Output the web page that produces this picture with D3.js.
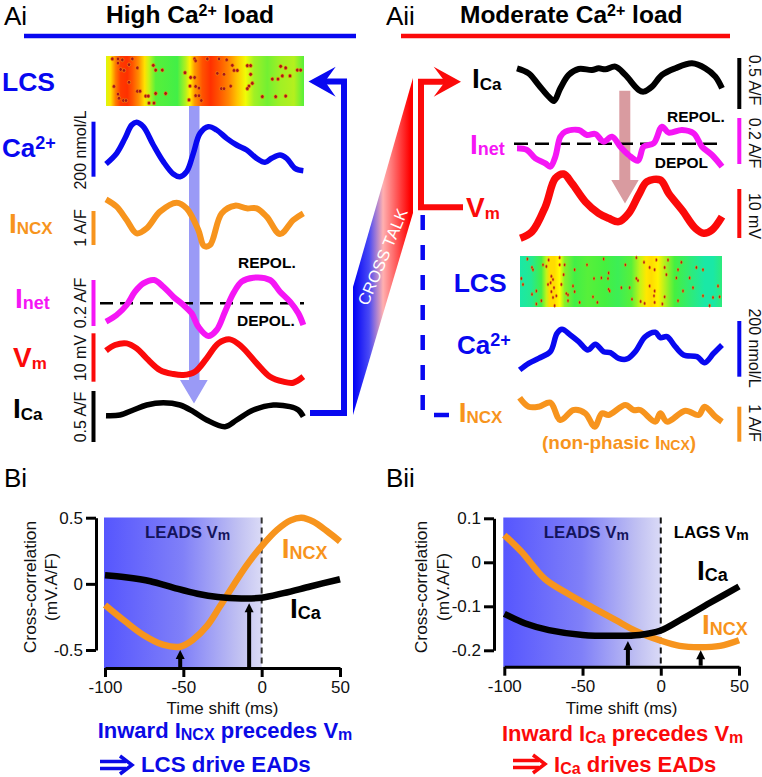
<!DOCTYPE html>
<html><head><meta charset="utf-8">
<script src="https://cdn.jsdelivr.net/npm/d3@7/dist/d3.min.js"></script>
<style>html,body{margin:0;padding:0;background:#fff}svg{display:block;font-family:"Liberation Sans",Arial,sans-serif}</style>
</head><body><div id="c"></div>
<script>
// ---------- colours
const BLUE="#0808f0",RED="#fb0a0a",ORANGE="#f7941d",MAGENTA="#f516f5",BLACK="#000";

// ---------- panel Ai traces: [time, amplitude]
const aiCa=[[0,48],[32,80],[57,125],[77,165],[92,173],[112,160],[142,105],[172,55],[202,18],[222,10],[242,25],[262,80],[282,140],[307,160],[332,150],[362,125],[392,105],[422,90],[452,65],[477,53],[497,65],[522,75],[542,65],[567,35],[592,28]];
const aiNcx=[[0,152],[32,130],[62,90],[92,50],[122,65],[162,115],[212,142],[242,125],[277,60],[294,12],[312,15],[347,110],[387,133],[422,125],[452,125],[482,100],[522,48],[562,90],[592,110]];
const aiNet=[[0,55],[32,75],[62,105],[87,145],[112,170],[144,180],[172,160],[202,130],[232,105],[257,80],[277,40],[307,12],[332,30],[357,85],[382,140],[407,175],[442,187],[492,180],[522,145],[552,115],[577,80],[592,45]];
const aiVm=[[0,108],[27,125],[62,130],[92,115],[122,85],[162,50],[202,38],[232,35],[267,45],[302,85],[337,130],[372,142],[407,120],[452,70],[492,30],[532,15],[562,12],[592,30]];
const aiICa=[[0,43],[42,45],[82,60],[122,75],[172,82],[222,75],[262,55],[302,30],[357,10],[392,30],[442,60],[502,75],[552,70],[577,60],[592,40]];

// ---------- panel Aii traces
const aiiICa=[[0,105],[35,90],[65,55],[95,20],[111,7],[130,45],[155,85],[185,103],[225,100],[245,105],[265,102],[295,110],[325,85],[365,40],[380,35],[405,50],[435,85],[475,105],[525,120],[565,105],[595,80],[615,45]];
const aiiNet=[[0,65],[30,60],[55,35],[85,20],[100,10],[115,40],[130,100],[145,115],[185,120],[210,105],[235,108],[260,85],[285,100],[310,70],[335,45],[363,28],[380,70],[410,80],[435,130],[455,112],[495,120],[530,110],[555,70],[585,45],[615,10]];
const aiiVm=[[10,5],[45,25],[85,100],[115,185],[140,198],[165,170],[205,115],[245,80],[275,65],[305,55],[335,80],[365,135],[390,175],[430,180],[455,140],[495,90],[535,35],[560,20],[585,30],[615,70]];
const aiiCa=[[8,10],[35,30],[65,45],[100,65],[120,120],[135,132],[160,115],[185,95],[213,70],[235,87],[260,65],[280,62],[305,45],[330,43],[355,65],[385,110],[415,123],[430,107],[450,110],[475,80],[500,55],[540,50],[563,32],[590,60],[615,85]];
const aiiNcx=[[8,97],[35,70],[65,70],[100,82],[130,30],[170,60],[205,50],[233,10],[255,50],[275,45],[325,75],[350,60],[370,60],[415,25],[430,50],[450,25],[505,58],[545,45],[563,70],[595,40],[615,25]];

// ---------- line-scan (LCS) images
const lcsAiPos=[6,20,35,50,70,85,105,122,135,155,220,245,258,272,295,320,345,375,400,425,450,490,530,570,600];
const lcsAiVal=[.45,.55,.75,.92,.95,.85,.7,.55,.42,.3,.27,.4,.52,.68,.85,.95,.85,.72,.6,.48,.38,.33,.38,.4,.3];
const lcsAiiPos=[6,40,70,85,95,110,125,140,170,210,260,300,340,365,385,400,420,440,470,520,560,585,612];
const lcsAiiVal=[.13,.17,.27,.42,.56,.56,.5,.35,.27,.3,.28,.25,.3,.42,.54,.56,.52,.4,.28,.2,.13,.13,.2];
const sparksAi=[[25,12],[42,12],[55,15],[42,25],[50,45],[60,48],[30,98],[75,85],[100,113],[108,113],[42,122],[125,128],[133,128],[58,142],[66,142],[45,135],[100,40],[85,12],[148,32],[155,47],[175,47],[243,55],[185,120],[135,150],[150,150],[272,12],[275,18],[260,70],[272,70],[258,97],[275,98],[285,103],[255,140],[275,127],[285,127],[292,142],[340,57],[345,12],[368,15],[352,105],[360,105],[385,32],[390,48],[400,48],[380,97],[430,33],[440,33],[440,60],[445,88],[435,97],[430,105],[475,130],[515,130],[545,40],[530,35],[535,65],[558,65],[580,47],[590,47],[505,75],[522,75],[545,128],[360,60],[310,12],[155,120],[75,30]];
const sparksAii=[[92,15],[125,8],[28,12],[42,38],[45,45],[75,30],[85,35],[125,30],[140,30],[207,30],[257,12],[322,30],[355,8],[415,15],[450,15],[490,22],[378,22],[395,38],[410,45],[440,38],[480,45],[555,45],[535,38],[170,45],[272,55],[137,60],[100,65],[105,75],[98,85],[90,90],[108,100],[100,112],[10,72],[228,72],[250,70],[270,72],[355,72],[360,78],[445,60],[475,70],[15,90],[55,110],[130,90],[165,95],[170,112],[145,118],[150,122],[272,105],[275,110],[310,100],[335,100],[395,95],[410,110],[408,125],[525,100],[600,95],[515,70],[42,120],[115,125],[105,130],[110,155],[225,128],[238,145],[342,135],[368,142],[380,148],[410,145],[440,128],[433,150],[480,140],[555,125],[585,130],[605,128],[575,155],[70,140],[55,150],[185,145],[150,140],[495,110]];

// ---------- panel B data
const lagTicks=[-100,-50,0,50];
const biTicks=[-0.5,0,0.5], biiTicks=[-0.2,-0.1,0,0.1];
const biNcx=[[-100,-.16],[-87,-.285],[-75.5,-.386],[-63,-.46],[-52,-.475],[-43.6,-.42],[-35,-.32],[-26.6,-.17],[-18,-.01],[-9.6,.14],[0,.285],[10,.41],[18.5,.48],[25.5,.5],[33,.47],[41.5,.4],[50,.32]];
const biICa=[[-100,.065],[-87,.05],[-71,.02],[-56,-.03],[-41,-.075],[-28,-.1],[-13,-.11],[0,-.105],[14,-.07],[31,-.02],[50,.035]];
const biiNcx=[[-100,.062],[-89,.024],[-74,-.038],[-59,-.072],[-43.5,-.103],[-29,-.131],[-16,-.156],[0,-.178],[12,-.19],[25,-.193],[38,-.19],[50,-.177]];
const biiICa=[[-100,-.117],[-86.5,-.139],[-71.5,-.154],[-50,-.165],[-28.5,-.167],[-13.5,-.165],[0,-.155],[14,-.128],[31.5,-.092],[50,-.055]];
const biPeaks=[[-52,-.5],[-8,-.146]], biiPeaks=[[-21,-.179],[25.5,-.2]];

// ---------- scaffold
const svg=d3.select("#c").append("svg").attr("width",762).attr("height",777);
const defs=svg.append("defs");
defs.append("filter").attr("id","soft").append("feGaussianBlur").attr("stdDeviation",.4);

function rich(x,y,parts,color,opt={}){
  const t=svg.append("text").attr("x",x).attr("y",y).attr("fill",color)
    .attr("font-weight",opt.weight||"bold").attr("text-anchor",opt.anchor||"start");
  if(opt.rotate!==undefined)t.attr("transform",`rotate(${opt.rotate} ${x} ${y})`);
  let prev=0;
  parts.forEach(([s,size,off])=>{off=off||0;
    t.append("tspan").attr("dy",off-prev).attr("font-size",size).text(s);prev=off;});
  return t;
}
function plain(x,y,s,size,color,opt={}){
  return rich(x,y,[[s,size]],color,Object.assign({weight:"normal"},opt));
}
const poly=(pts,fill)=>svg.append("polygon").attr("points",pts.map(p=>p.join(",")).join(" ")).attr("fill",fill);
const pline=(pts,stroke,w,dash)=>svg.append("path").attr("d",d3.line()(pts)).attr("fill","none")
  .attr("stroke",stroke).attr("stroke-width",w).attr("stroke-dasharray",dash||null);

// ---------- headings
plain(4,25,"Ai",26,BLACK);
rich(106,23,[["High Ca",24.5],["2+",16,-7],[" load",24.5,0]],BLACK);
plain(386,25,"Aii",26,BLACK);
rich(460,23,[["Moderate Ca",24.5],["2+",16,-7],[" load",24.5,0]],BLACK);
pline([[24,36],[356,36]],BLUE,4.5);
pline([[401,36],[730,36]],RED,4.5);

// ---------- traces
const xAi=d3.scaleLinear([0,594],[106,304]);
const xAii=d3.scaleLinear([0,615],[517,722]);
function trace(data,xs,base,color,w){
  const y=d3.scaleLinear([0,300],[base,base-100]);
  svg.append("path").datum(data)
    .attr("d",d3.line().x(d=>xs(d[0])).y(d=>y(d[1])).curve(d3.curveCatmullRom.alpha(.5)))
    .attr("fill","none").attr("stroke",color).attr("stroke-width",w).attr("stroke-linejoin","round");
}

// ---------- LCS images
const heat=d3.scaleLinear([0,.15,.28,.4,.5,.65,.8,1],
  ["#00e6d0","#1ee8a0","#45f040","#b4f01e","#ffff00","#ffa800","#ff6400","#ff1e00"]);
function lcs(id,pos,val,sparks,x0,x1,y0,y1,rx,ry){
  const g=defs.append("linearGradient").attr("id",id);
  const fx=d3.scaleLinear(d3.extent(pos),[0,1]);
  pos.forEach((p,i)=>g.append("stop").attr("offset",fx(p)).attr("stop-color",heat(val[i])));
  const gx=svg.append("g");
  gx.append("rect").attr("x",x0).attr("y",y0).attr("width",x1-x0).attr("height",y1-y0).attr("fill",`url(#${id})`);
  const sx=d3.scaleLinear(d3.extent(pos),[x0,x1]);
  const sy=d3.scaleLinear([6,156],[y0+1,y1-1]).clamp(true);
  gx.selectAll("ellipse").data(sparks).join("ellipse")
    .attr("cx",d=>sx(d[0])).attr("cy",d=>sy(d[1])).attr("rx",rx).attr("ry",ry)
    .attr("fill","#a5141a").attr("stroke","#ff9a10").attr("stroke-opacity",.7).attr("stroke-width",.8)
    .attr("filter","url(#soft)");
}
lcs("lcsAi",lcsAiPos,lcsAiVal,sparksAi,106,304,56,106,1.7,1.9);
lcs("lcsAii",lcsAiiPos,lcsAiiVal,sparksAii,520,722,256,307,1,1.7);

// ---------- big pale arrows (behind traces)
const AIB="#9a9af6",AIIP="#d99ba0";
poly([[189,106],[199.5,106],[199.5,380],[207.7,380],[194,403.5],[180,380],[189,380]],AIB);
poly([[619.3,90.7],[630.3,90.7],[630.3,180],[638.7,180],[625,203.5],[611.3,180],[619.3,180]],AIIP);

// ---------- zero-current dashes
pline([[100,303.3],[304,303.3]],BLACK,2.5,"13 7");
pline([[514,143.7],[718,143.7]],BLACK,2.5,"14 7");

trace(aiCa,xAi,180,BLUE,5.5);
trace(aiNcx,xAi,250,ORANGE,6);
trace(aiNet,xAi,340,MAGENTA,6);
trace(aiVm,xAi,386.7,RED,6);
trace(aiICa,xAi,430,BLACK,5.5);
trace(aiiICa,xAii,103.3,BLACK,6);
trace(aiiNet,xAii,170,MAGENTA,6);
trace(aiiVm,xAii,240,RED,7.5);
trace(aiiCa,xAii,373.3,BLUE,5.5);
trace(aiiNcx,xAii,430,ORANGE,6);

// ---------- scale bars
function bar(x,y0,y1,color,label,lx,ly,rot){
  pline([[x,y0],[x,y1]],color,4);
  plain(lx,ly,label,16,"#111",{rotate:rot,anchor:"middle"});
}
bar(93.5,121.7,176.7,BLUE,"200 nmol/L",85.5,150,-90);
bar(93.5,211,245,ORANGE,"1 A/F",85.5,228,-90);
bar(93.5,280,326,MAGENTA,"0.2 A/F",85.5,303,-90);
bar(93.5,333.3,381.7,RED,"10 mV",85.5,358,-90);
bar(93.5,391,442,BLACK,"0.5 A/F",85.5,417,-90);
bar(739.3,58,109,BLACK,"0.5 A/F",749,80,90);
bar(739.3,118,164,MAGENTA,"0.2 A/F",749,143,90);
bar(739.3,189,238,RED,"10 mV",749,216,90);
bar(739.3,321,376.7,BLUE,"200 nmol/L",749,348,90);
bar(739.3,406.7,441.7,ORANGE,"1 A/F",749,423,90);

// ---------- row labels
const ICA=[["I",28],["Ca",17,2]];
const NCX=[["I",28],["NCX",17,1]];
const NET=[["I",28],["net",18,1]];
const VM=[["V",28],["m",17,2]];
const CA2=[["Ca",26],["2+",18,-8]];
rich(2,90.5,[["LCS",26.5]],BLUE);
rich(2,157,CA2,BLUE);
rich(9,233,NCX,ORANGE);
rich(15,308,NET,MAGENTA);
rich(13,366.5,VM,RED);
rich(13,418,ICA,BLACK);
rich(472,88.3,ICA,BLACK);
rich(470,154,NET,MAGENTA);
rich(466,216.7,VM,RED);
rich(453.7,291.7,[["LCS",26.5]],BLUE);
rich(457,354,CA2,BLUE);
rich(458.7,422,NCX,ORANGE);
rich(542,449.3,[["(non-phasic I",19],["NCX",14,1],[")",19,0]],ORANGE);
rich(238,268.3,[["REPOL.",15.5]],BLACK);
rich(237,325.7,[["DEPOL.",15.5]],BLACK);
rich(667,122,[["REPOL.",15.5]],BLACK);
rich(654.7,167.7,[["DEPOL",15.5]],BLACK);

// ---------- connectors
pline([[310,413],[344,413],[344,81.5],[322,81.5]],BLUE,6);
poly([[308.5,81.5],[335.7,66.7],[325,81.5],[335.7,96.7]],BLUE);
pline([[448,81.7],[421,81.7],[421,207.3],[463,207.3]],RED,6);
poly([[461,81.7],[433.7,66.7],[445,81.7],[433.7,96.7]],RED);
pline([[422.7,215],[422.7,410]],BLUE,4.5,"15 15");
pline([[434,415],[449,415]],BLUE,4.5);

// ---------- cross-talk wedge
const ct=defs.append("linearGradient").attr("id","ct");
[[0,"#0000f5"],[.27,"#4a4af5"],[.5,"#ffb0b0"],[.72,"#ff5a5a"],[.95,"#ff0000"],[1,"#ff0000"]].forEach(d=>ct.append("stop").attr("offset",d[0]).attr("stop-color",d[1]));
poly([[413,78],[413,213],[353,415],[353,287]],"url(#ct)");
plain(388,259,"CROSS TALK",16.5,"#fff",{rotate:-67,anchor:"middle"});

// ---------- cross-correlation panels
const gr=defs.append("linearGradient").attr("id","lead");
[[0,"#5656fe"],[.5,"#8080f8"],[.85,"#c0c0f2"],[1,"#dadaf6"]].forEach(d=>gr.append("stop").attr("offset",d[0]).attr("stop-color",d[1]));
function panel(o){
  const x=d3.scaleLinear([-100,50],o.xr), y=d3.scaleLinear(o.yd,o.yr);
  svg.append("rect").attr("x",x(-100)-1).attr("y",o.top).attr("width",x(0)-x(-100)+1).attr("height",o.ax-o.top).attr("fill","url(#lead)");
  pline([[x(0),o.top],[x(0),o.ax]],o.zeroCol,2,"6 4");
  const ya=svg.append("g").attr("transform",`translate(${o.yAxisX},0)`)
    .call(d3.axisLeft(y).tickValues(o.yt).tickFormat(d=>String(d)).tickSize(10).tickSizeOuter(0).tickPadding(3));
  const xa=svg.append("g").attr("transform",`translate(0,${o.ax})`)
    .call(d3.axisBottom(x).tickValues(lagTicks).tickFormat(d=>String(d)).tickSize(9).tickSizeOuter(0).tickPadding(4));
  [ya,xa].forEach(a=>{a.selectAll("path,line").attr("stroke","#000").attr("stroke-width",3);
    a.selectAll("text").attr("font-size",17).attr("font-family","'Liberation Sans',Arial,sans-serif").attr("fill","#111");});
  const ln=d3.line().x(d=>x(d[0])).y(d=>y(d[1])).curve(d3.curveCatmullRom);
  svg.append("path").attr("d",ln(o.ncx)).attr("fill","none").attr("stroke",ORANGE).attr("stroke-width",6.5);
  svg.append("path").attr("d",ln(o.ica)).attr("fill","none").attr("stroke",BLACK).attr("stroke-width",6.5);
  o.peaks.forEach(([t,v])=>{
    pline([[x(t),o.ax-1],[x(t),y(v)+6]],BLACK,4);
    poly([[x(t),y(v)],[x(t)+4.5,y(v)+9],[x(t)-4.5,y(v)+9]],BLACK);
  });
  plain((x(-100)+x(50))/2,714,"Time shift (ms)",17,"#111",{anchor:"middle"});
  plain(o.yl1,o.ylc,"Cross-correlation",17.4,"#111",{anchor:"middle",rotate:-90});
  plain(o.yl2,o.ylc,"(mV.A/F)",17.4,"#111",{anchor:"middle",rotate:-90});
}
plain(4,486.7,"Bi",26,BLACK);
plain(386,486.7,"Bii",26,BLACK);
panel({xr:[105,340],yd:[-.5,.5],yr:[650,517.7],yt:biTicks,top:517.5,ax:668,yAxisX:96,ncx:biNcx,ica:biICa,peaks:biPeaks,yl1:36,yl2:57,ylc:587,zeroCol:"#333"});
panel({xr:[504.3,739],yd:[-.2,.1],yr:[650.3,518.3],yt:biiTicks,top:517.5,ax:666.7,yAxisX:494,ncx:biiNcx,ica:biiICa,peaks:biiPeaks,yl1:427,yl2:449,ylc:587,zeroCol:"#111"});

const DN="#14145c";
rich(145,538,[["LEADS V",16.8],["m",14,2]],DN);
rich(543.7,538,[["LEADS V",16.8],["m",14,2]],DN);
rich(673.7,538,[["LAGS V",16.8],["m",14,2]],BLACK);
rich(281.7,557.7,[["I",28],["NCX",18,1]],ORANGE);
rich(290,618,[["I",28],["Ca",18,1]],BLACK);
rich(697,580,[["I",28],["Ca",18,1]],BLACK);
rich(702,634,[["I",28],["NCX",18,1]],ORANGE);

// ---------- conclusions
rich(97.7,738,[["Inward I",22],["NCX",16,2],[" precedes V",22,0],["m",16,2]],"#0a0ae6");
rich(141,771.7,[["LCS drive EADs",22.3]],"#0a0ae6");
rich(502,740.7,[["Inward I",22],["Ca",16,2],[" precedes V",22,0],["m",16,2]],RED);
rich(554,771.7,[["I",22],["Ca",16,2],[" drives EADs",22,0]],RED);
function dbl(x0,x1,y,c){
  pline([[x0,y-3.5],[x1-6,y-3.5]],c,3.5);
  pline([[x0,y+3.5],[x1-6,y+3.5]],c,3.5);
  svg.append("path").attr("d",d3.line()([[x1-12,y-9],[x1,y],[x1-12,y+9]])).attr("fill","none").attr("stroke",c).attr("stroke-width",3.5);
}
dbl(100,132,765,"#0a0ae6");
dbl(513,545,764,RED);
</script></body></html>
